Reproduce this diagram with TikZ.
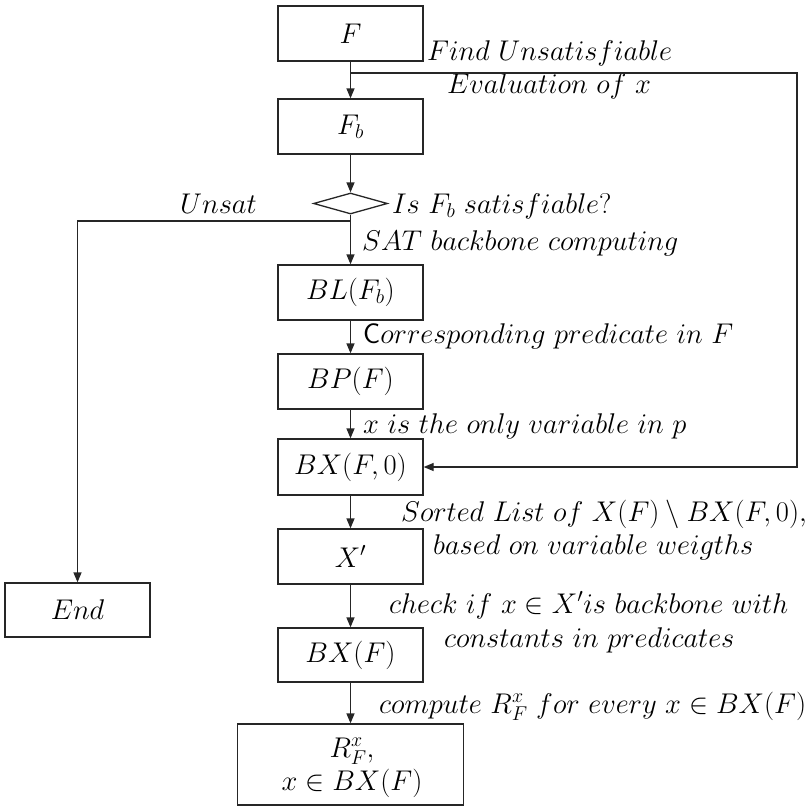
\RequirePackage{fix-cm}
\documentclass[tikz,border=0pt]{standalone}
\usetikzlibrary{arrows.meta,shapes.geometric}
\begin{document}
\begin{tikzpicture}[x=1pt,y=-1pt,
  every node/.style={font=\fontsize{28.5}{33}\selectfont},
  box/.style={draw=black!85,line width=1.3pt,rectangle,inner sep=0pt,minimum width=145pt,minimum height=55pt},
  lbl/.style={inner sep=0pt,anchor=base west},
  arr/.style={draw=black!85,line width=1.3pt,-{Triangle[length=10pt,width=8pt]}},
  ln/.style={draw=black!85,line width=1.3pt}]
\useasboundingbox (0,0) rectangle (807,806);
% boxes
\node[box] (F)   at (350.5,33.5)  {$F$};
\node[box] (Fb)  at (350.5,126.5) {$F_b$};
\node[draw=black!85,line width=1.3pt,diamond,aspect=3.5,inner sep=0pt,minimum width=74pt,minimum height=21pt] (D) at (350.5,203.5) {};
\node[box] (BL)  at (350.5,292.5) {$BL(F_b)$};
\node[box] (BP)  at (350.5,381.5) {$BP(F)$};
\node[box,minimum height=56pt] (BX0) at (350.5,467) {$BX(F,0)$};
\node[box] (Xp)  at (350.5,556.5) {$X'$};
\node[box,minimum height=54pt] (BXF) at (350.5,655) {$BX(F)$};
\node[box,minimum width=226pt,minimum height=81pt] (R) at (350.5,764.5) {};
\node[inner sep=0pt,anchor=base] (Rt1) at (352,757) {$R_F^x,$};
\node[inner sep=0pt,anchor=base] (Rt2) at (352,790) {$x\in BX(F)$};
\node[box,minimum width=145pt,minimum height=54pt] (End) at (77.5,610) {$End$};
% labels
\node[lbl] (lFind)  at (427,60)  {$Find\ Unsatisfiable$};
\node[lbl] (lEval)  at (447,93)  {$Evaluation\ of\ x$};
\node[lbl] (lIs)    at (392,213) {$Is\ F_b\ satisfiable?$};
\node[lbl] (lUnsat) at (180,213) {$Unsat$};
\node[lbl] (lSAT)   at (362,250) {$SAT\ backbone\ computing$};
\node[lbl] (lCorr)  at (363,343) {$\textsf{C}orresponding\ predicate\ in\ F$};
\node[lbl] (lOnly)  at (363,433) {$x\ is\ the\ only\ variable\ in\ p$};
\node[lbl] (lSort1) at (401,521) {$Sorted\ List\ of\ X(F)\setminus BX(F,0),$};
\node[lbl] (lSort2) at (433,554) {$based\ on\ variable\ weigths$};
\node[lbl] (lChk1)  at (389,613) {$check\ if\ x\in X'is\ backbone\ with$};
\node[lbl] (lChk2)  at (444,647) {$constants\ in\ predicates$};
\node[lbl] (lComp)  at (379,713) {$compute\ R_F^x\ for\ every\ x\in BX(F)$};
% connectors
\coordinate (fb1) at (350.5,73);
\coordinate (fbR) at (797,73);
\coordinate (u1) at (350.5,221);
\coordinate (u2) at (77.5,221);
\draw[arr] (F) -- (Fb);
\draw[arr] (Fb) -- (D);
\draw[arr] (D) -- (BL);
\draw[arr] (BL) -- (BP);
\draw[arr] (BP) -- (BX0);
\draw[arr] (BX0) -- (Xp);
\draw[arr] (Xp) -- (BXF);
\draw[arr] (BXF) -- (R);
\draw[arr] (fb1) -- (fbR) |- (BX0.east);
\draw[arr] (u1) -- (u2) -- (End);
\end{tikzpicture}
\end{document}
